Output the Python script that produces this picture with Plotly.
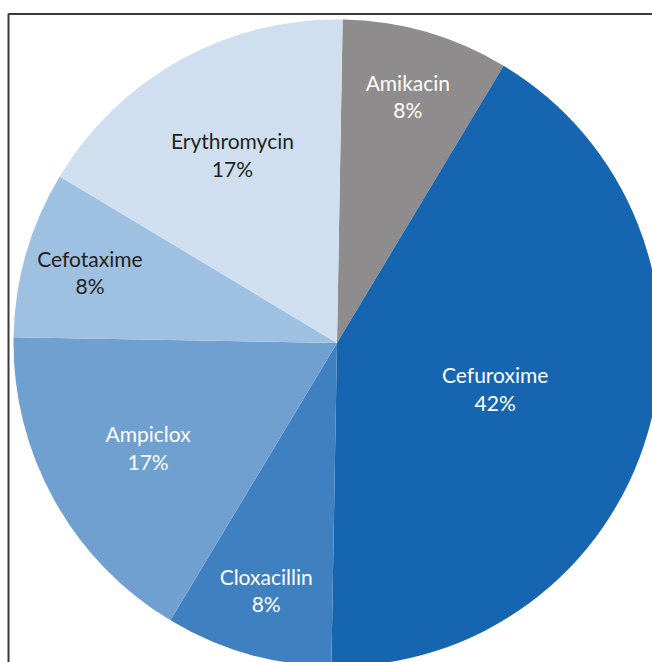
import plotly.graph_objects as go

labels = ["Amikacin", "Cefuroxime", "Cloxacillin", "Ampiclox", "Cefotaxime", "Erythromycin"]
counts = [1, 5, 1, 2, 1, 2]
slice_colors = ["#8e8c8d", "#1565b0", "#3f80c0", "#6fa0d0", "#9ec0e1", "#cfdfef"]
text_colors = ["white", "white", "white", "white", "#231f20", "#231f20"]

W, H = 700, 700
cx, cy, R = 337, 343, 323.5

fig = go.Figure(go.Pie(
    labels=labels,
    values=counts,
    sort=False,
    direction="clockwise",
    rotation=1,
    marker=dict(colors=slice_colors, line=dict(width=0)),
    texttemplate="%{label}<br>%{percent:.0%}",
    textposition="inside",
    insidetextorientation="horizontal",
    insidetextfont=dict(family="Lato", size=21, color=text_colors),
    hoverinfo="label+percent",
    showlegend=False,
    domain=dict(x=[(cx - R) / W, (cx + R) / W], y=[1 - (cy + R) / H, 1 - (cy - R) / H]),
))

fig.update_layout(
    width=W, height=H,
    margin=dict(l=0, r=0, t=0, b=0),
    paper_bgcolor="white",
    uniformtext=dict(minsize=21, mode="show"),
    shapes=[
        dict(type="line", xref="paper", yref="paper", x0=8.5 / W, x1=8.5 / W, y0=0, y1=1 - 13.5 / H,
             line=dict(color="#3a3a3a", width=2)),
        dict(type="line", xref="paper", yref="paper", x0=8.5 / W, x1=1, y0=1 - 14 / H, y1=1 - 14 / H,
             line=dict(color="#3a3a3a", width=2)),
    ],
)

fig.write_html(
    "out.html",
    config={"displayModeBar": False},
    post_script="document.body.style.margin='0';document.body.style.overflow='hidden';",
)
